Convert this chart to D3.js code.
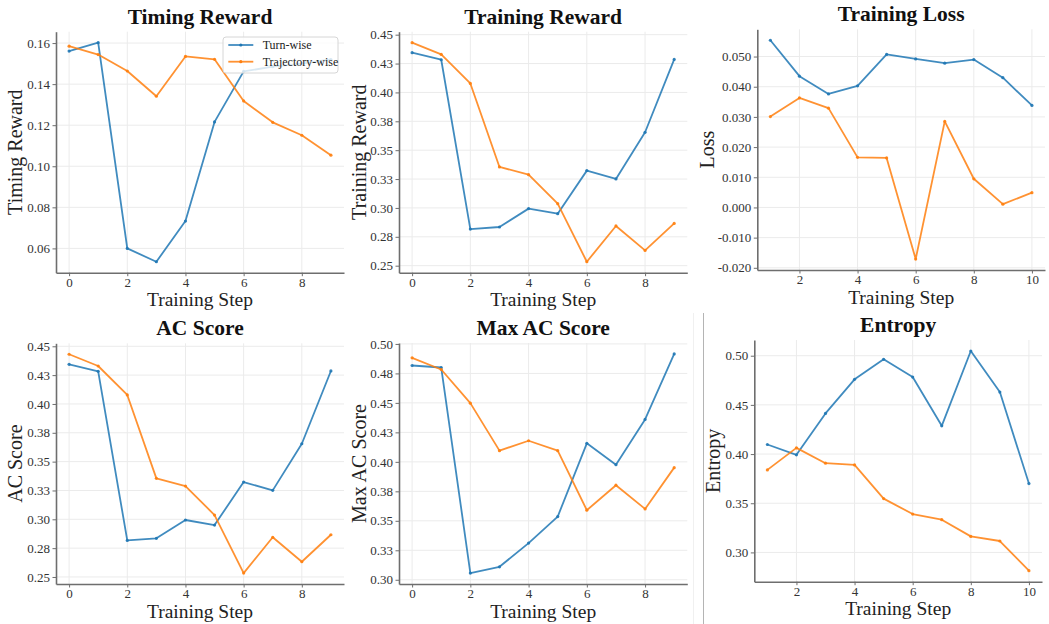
<!DOCTYPE html>
<html><head><meta charset="utf-8">
<script src="https://cdn.jsdelivr.net/npm/d3@7"></script>
<style>
body{margin:0;background:#fff;}
svg{display:block;}
svg text{font-family:"Liberation Serif","Times New Roman",Times,serif !important;}
</style></head><body>
<svg id="chart" width="1049" height="624"></svg>
<script>
// ---------- data ----------
const seriesNames = ["Turn-wise", "Trajectory-wise"];
const stepsA = [0,1,2,3,4,5,6,7,8,9];
const stepsB = [1,2,3,4,5,6,7,8,9,10];

const timingTurn = [0.1561, 0.1602, 0.0600, 0.0535, 0.0733, 0.1216, 0.1462, 0.1485, 0.1500, 0.1520];
const timingTraj = [0.1585, 0.1544, 0.1464, 0.1341, 0.1535, 0.1521, 0.1318, 0.1214, 0.1151, 0.1054];

const rewardTurn = [0.4344, 0.4283, 0.2817, 0.2835, 0.2994, 0.2950, 0.3323, 0.3251, 0.3655, 0.4286];
const rewardTraj = [0.4431, 0.4329, 0.4078, 0.3355, 0.3288, 0.3037, 0.2534, 0.2844, 0.2632, 0.2866];

const lossTurn = [0.0554, 0.0435, 0.0376, 0.0403, 0.0507, 0.0492, 0.0478, 0.0490, 0.0430, 0.0338];
const lossTraj = [0.0301, 0.0363, 0.0329, 0.0166, 0.0164, -0.0171, 0.0285, 0.0095, 0.0011, 0.0049];

const acTurn = [0.4344, 0.4283, 0.2817, 0.2835, 0.2994, 0.2950, 0.3323, 0.3251, 0.3655, 0.4286];
const acTraj = [0.4431, 0.4329, 0.4078, 0.3355, 0.3288, 0.3037, 0.2534, 0.2844, 0.2632, 0.2866];

const maxAcTurn = [0.4817, 0.4800, 0.3057, 0.3110, 0.3311, 0.3536, 0.4157, 0.3976, 0.4360, 0.4915];
const maxAcTraj = [0.4882, 0.4783, 0.4498, 0.4095, 0.4179, 0.4095, 0.3590, 0.3802, 0.3601, 0.3951];

const entropyTurn = [0.4097, 0.3992, 0.4413, 0.4760, 0.4963, 0.4783, 0.4287, 0.5048, 0.4630, 0.3700];
const entropyTraj = [0.3839, 0.4063, 0.3907, 0.3890, 0.3547, 0.3390, 0.3333, 0.3163, 0.3116, 0.2814];

const xTicksA = [0,2,4,6,8];
const xTicksB = [2,4,6,8,10];

const timingTicks = [0.06,0.08,0.10,0.12,0.14,0.16];
const timingTickLabels = ["0.06","0.08","0.10","0.12","0.14","0.16"];
const rewardTicks = [0.25,0.275,0.30,0.325,0.35,0.375,0.40,0.425,0.45];
const rewardTickLabels = ["0.25","0.28","0.30","0.33","0.35","0.38","0.40","0.43","0.45"];
const lossTicks = [-0.02,-0.01,0,0.01,0.02,0.03,0.04,0.05];
const lossTickLabels = ["-0.020","-0.010","0.000","0.010","0.020","0.030","0.040","0.050"];
const maxAcTicks = [0.30,0.325,0.35,0.375,0.40,0.425,0.45,0.475,0.50];
const maxAcTickLabels = ["0.30","0.33","0.35","0.38","0.40","0.43","0.45","0.48","0.50"];
const entropyTicks = [0.30,0.35,0.40,0.45,0.50];
const entropyTickLabels = ["0.30","0.35","0.40","0.45","0.50"];

// ---------- layout ----------
const FONT = '"Liberation Serif","Times New Roman",Times,serif';
const colors = ["#1f77b4", "#ff7f0e"];
const panels = [
  {title:"Timing Reward", ylabel:"Timing Reward", steps:stepsA, turn:timingTurn, traj:timingTraj,
   xt:xTicksA, yt:timingTicks, ytl:timingTickLabels, l:56, r:344, t:31.7, b:272.7, ylx:21.5, legend:true},
  {title:"Training Reward", ylabel:"Training Reward", steps:stepsA, turn:rewardTurn, traj:rewardTraj,
   xt:xTicksA, yt:rewardTicks, ytl:rewardTickLabels, l:399, r:687.3, t:31.7, b:272.7, ylx:365.5},
  {title:"Training Loss", ylabel:"Loss", steps:stepsB, turn:lossTurn, traj:lossTraj,
   xt:xTicksB, yt:lossTicks, ytl:lossTickLabels, l:757.3, r:1045, t:29.3, b:270, ylx:713.5},
  {title:"AC Score", ylabel:"AC Score", steps:stepsA, turn:acTurn, traj:acTraj,
   xt:xTicksA, yt:rewardTicks, ytl:rewardTickLabels, l:56, r:344, t:343.3, b:584, ylx:21.5},
  {title:"Max AC Score", ylabel:"Max AC Score", steps:stepsA, turn:maxAcTurn, traj:maxAcTraj,
   xt:xTicksA, yt:maxAcTicks, ytl:maxAcTickLabels, l:399, r:687.3, t:343, b:584, ylx:366},
  {title:"Entropy", ylabel:"Entropy", steps:stepsB, turn:entropyTurn, traj:entropyTraj,
   xt:xTicksB, yt:entropyTicks, ytl:entropyTickLabels, l:754.3, r:1042, t:340, b:581.7, ylx:720}
];

const svg = d3.select("#chart");
svg.append("rect").attr("width",1049).attr("height",624).attr("fill","#fff");

// screenshot border artifacts
svg.append("line").attr("x1",693.5).attr("x2",693.5).attr("y1",313).attr("y2",624)
  .attr("stroke","#f0f0f0").attr("stroke-width",1);
svg.append("line").attr("x1",703.5).attr("x2",703.5).attr("y1",313).attr("y2",624)
  .attr("stroke","#b4b4b4").attr("stroke-width",1);

function pad(ext){ const p=(ext[1]-ext[0])*0.05; return [ext[0]-p, ext[1]+p]; }

panels.forEach(p => {
  const g = svg.append("g");
  const x = d3.scaleLinear().domain(pad(d3.extent(p.steps))).range([p.l, p.r]);
  const y = d3.scaleLinear().domain(pad(d3.extent(p.turn.concat(p.traj)))).range([p.b, p.t]);

  // grid
  g.append("g").selectAll("line").data(p.xt).join("line")
    .attr("x1",d=>x(d)).attr("x2",d=>x(d)).attr("y1",p.t).attr("y2",p.b)
    .attr("stroke","#ebebeb").attr("stroke-width",1);
  g.append("g").selectAll("line").data(p.yt).join("line")
    .attr("x1",p.l).attr("x2",p.r).attr("y1",d=>y(d)).attr("y2",d=>y(d))
    .attr("stroke","#ebebeb").attr("stroke-width",1);

  // axes
  const xa = g.append("g").attr("transform",`translate(0,${p.b})`)
    .call(d3.axisBottom(x).tickValues(p.xt).tickFormat(d3.format("d")).tickSize(3.5).tickSizeOuter(0).tickPadding(1.5));
  const ya = g.append("g").attr("transform",`translate(${p.l},0)`)
    .call(d3.axisLeft(y).tickValues(p.yt).tickFormat((d,i)=>p.ytl[i]).tickSize(3.5).tickSizeOuter(0).tickPadding(2.5));
  [xa,ya].forEach(a=>{
    a.attr("font-family", FONT).attr("font-size", 13);
    a.select(".domain").attr("stroke","#6e6e6e").attr("stroke-width",1.6);
    a.selectAll(".tick line").attr("stroke","#6e6e6e").attr("stroke-width",1);
    a.selectAll(".tick text").attr("fill","#333").attr("font-family", FONT).attr("font-size", 13);
  });

  // lines
  [p.turn, p.traj].forEach((vals,k)=>{
    const pts = vals.map((v,i)=>[p.steps[i], v]);
    g.append("path").datum(pts)
      .attr("fill","none").attr("stroke",colors[k]).attr("stroke-width",1.8).attr("stroke-opacity",0.85)
      .attr("stroke-linejoin","round")
      .attr("d", d3.line().x(d=>x(d[0])).y(d=>y(d[1])));
    g.append("g").selectAll("circle").data(pts).join("circle")
      .attr("cx",d=>x(d[0])).attr("cy",d=>y(d[1])).attr("r",1.6)
      .attr("fill",colors[k]).attr("fill-opacity",0.9);
  });

  // texts
  const cx = (p.l+p.r)/2, cy = (p.t+p.b)/2;
  g.append("text").attr("x",cx).attr("y",p.t-8).attr("text-anchor","middle").attr("font-family",FONT)
    .attr("font-size",21.5).attr("font-weight","bold").attr("fill","#111").text(p.title);
  g.append("text").attr("x",cx).attr("y",p.b+33.5).attr("text-anchor","middle").attr("font-family",FONT)
    .attr("font-size",19.5).attr("fill","#222").text("Training Step");
  g.append("text").attr("transform",`translate(${p.ylx},${cy}) rotate(-90)`).attr("text-anchor","middle")
    .attr("font-family",FONT).attr("font-size",20).attr("fill","#222").text(p.ylabel);

  if (p.legend) {
    const lg = g.append("g");
    lg.append("rect").attr("x",223).attr("y",37).attr("width",115).attr("height",36).attr("rx",3)
      .attr("fill","#fff").attr("fill-opacity",0.8).attr("stroke","#d6d6d6").attr("stroke-width",1);
    seriesNames.forEach((n,k)=>{
      const yy = 45 + k*16.7;
      lg.append("line").attr("x1",228.3).attr("x2",253.3).attr("y1",yy).attr("y2",yy)
        .attr("stroke",colors[k]).attr("stroke-width",1.8).attr("stroke-opacity",0.85);
      lg.append("circle").attr("cx",240.8).attr("cy",yy).attr("r",1.6).attr("fill",colors[k]);
      lg.append("text").attr("x",262.7).attr("y",yy+4.2).attr("font-family",FONT)
        .attr("font-size",12).attr("fill","#222").text(n);
    });
  }
});
</script>
</body></html>
